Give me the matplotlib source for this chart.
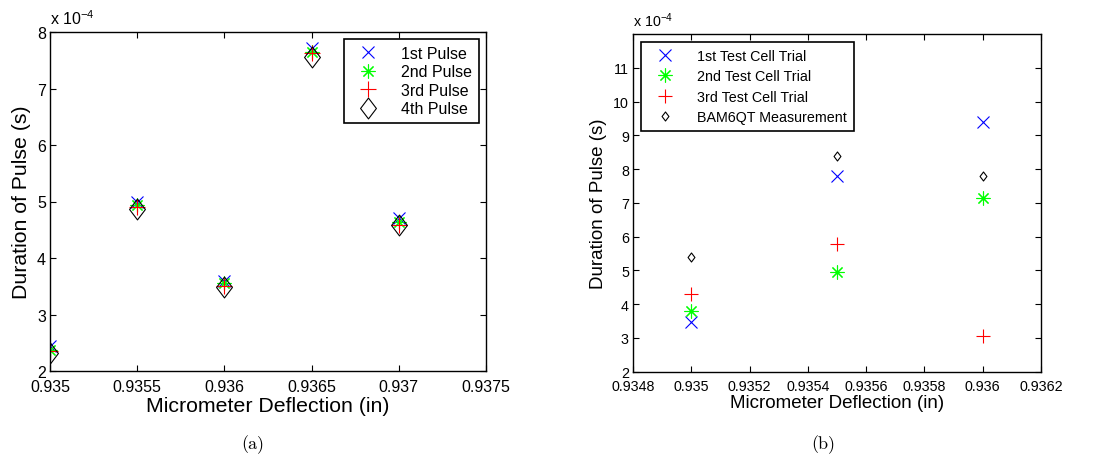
import numpy as np
import matplotlib
matplotlib.use('Agg')
from matplotlib import pyplot as plt
from matplotlib.path import Path

plt.rcParams['font.family'] = ['Liberation Sans', 'DejaVu Sans']
plt.rcParams['mathtext.default'] = 'regular'

# panel (a): pulses
x_a = [0.935, 0.9355, 0.936, 0.9365, 0.937]
pulse1 = [2.45, 5.00, 3.60, 7.72, 4.70]
pulse2 = [2.37, 4.93, 3.55, 7.65, 4.63]
pulse3 = [2.35, 4.90, 3.50, 7.63, 4.59]
pulse4 = [2.31, 4.86, 3.49, 7.56, 4.58]
labels_a = ['1st Pulse', '2nd Pulse', '3rd Pulse', '4th Pulse']
xticks_a = [0.935, 0.9355, 0.936, 0.9365, 0.937, 0.9375]
xticklabels_a = ['0.935', '0.9355', '0.936', '0.9365', '0.937', '0.9375']
yticks_a = [2, 3, 4, 5, 6, 7, 8]

# panel (b): test cell trials
x_b = [0.935, 0.9355, 0.936]
trial1 = [3.47, 7.80, 9.40]
trial2 = [3.79, 4.96, 7.13]
trial3 = [4.30, 5.79, 3.05]
bam6qt = [5.40, 8.40, 7.80]
labels_b = ['1st Test Cell Trial', '2nd Test Cell Trial', '3rd Test Cell Trial', 'BAM6QT Measurement']
xticks_b = [0.9348, 0.935, 0.9352, 0.9354, 0.9356, 0.9358, 0.936, 0.9362]
xticklabels_b = ['0.9348', '0.935', '0.9352', '0.9354', '0.9356', '0.9358', '0.936', '0.9362']
yticks_b = [2, 3, 4, 5, 6, 7, 8, 9, 10, 11]

diamond = Path([(-0.38, 0), (0, 0.5), (0.38, 0), (0, -0.5), (-0.38, 0)],
               [Path.MOVETO, Path.LINETO, Path.LINETO, Path.LINETO, Path.CLOSEPOLY])
star = (8, 2, 0)

fig = plt.figure(figsize=(10.97, 4.56), dpi=100)
ax1 = fig.add_axes([50 / 1097, 84 / 456, 436 / 1097, 339 / 456])
ax2 = fig.add_axes([633 / 1097, 83.3 / 456, 408 / 1097, 337.7 / 456])


def style(ax, xt, xtl, yt, xl, yl, fs_tick, fs_lab, xpad):
    ax.set_xlim(*xl)
    ax.set_ylim(*yl)
    ax.set_xticks(xt)
    ax.set_xticklabels(xtl)
    ax.set_yticks(yt)
    ax.set_yticklabels([str(v) for v in yt])
    ax.tick_params(direction='in', top=True, right=True, labelsize=fs_tick,
                   length=4, width=0.8, pad=3)
    ax.tick_params(axis='x', pad=xpad)
    for s in ax.spines.values():
        s.set_linewidth(1.0)
    ax.set_xlabel('Micrometer Deflection (in)', fontsize=fs_lab, labelpad=1)
    ax.set_ylabel('Duration of Pulse (s)', fontsize=fs_lab, labelpad=4)
    ax.text(0.0, 1.015, r'x 10$^{-4}$', transform=ax.transAxes, fontsize=fs_tick,
            ha='left', va='bottom')


# panel (a)
ax1.plot(x_a, pulse1, ls='none', marker='x', ms=8.5, mew=0.8, color='b', label=labels_a[0])
ax1.plot(x_a, pulse2, ls='none', marker=star, ms=10, mew=0.8, color=(0, 1, 0), label=labels_a[1])
ax1.plot(x_a, pulse3, ls='none', marker='+', ms=11, mew=0.8, color='r', label=labels_a[2])
ax1.plot(x_a, pulse4, ls='none', marker=diamond, ms=15, mew=0.8, mfc='none', color='k', label=labels_a[3])
style(ax1, xticks_a, xticklabels_a, yticks_a, (0.935, 0.9375), (2, 8), 11.5, 15.3, 6)
leg1 = ax1.legend(loc='upper right', fontsize=11.5, fancybox=False, edgecolor='k',
                  borderaxespad=0.45, handletextpad=1.0, labelspacing=0.22,
                  handlelength=2.2, borderpad=0.4, framealpha=1)
leg1.get_frame().set_linewidth(1.2)

# panel (b)
ax2.plot(x_b, trial1, ls='none', marker='x', ms=8, mew=0.8, color='b', label=labels_b[0])
ax2.plot(x_b, trial2, ls='none', marker=star, ms=10, mew=0.8, color=(0, 1, 0), label=labels_b[1])
ax2.plot(x_b, trial3, ls='none', marker='+', ms=10.5, mew=0.8, color='r', label=labels_b[2])
ax2.plot(x_b, bam6qt, ls='none', marker=diamond, ms=6.5, mew=0.8, mfc='none', color='k', label=labels_b[3])
style(ax2, xticks_b, xticklabels_b, yticks_b, (0.9348, 0.9362), (2, 12), 10.3, 13.5, 5)
leg2 = ax2.legend(loc='upper left', fontsize=10.3, fancybox=False, edgecolor='k',
                  borderaxespad=0.55, handletextpad=1.0, labelspacing=0.45,
                  handlelength=2.4, borderpad=0.5, framealpha=1)
leg2.get_frame().set_linewidth(1.2)

fig.text(253 / 1097, 1 - 445 / 456, '(a)', family='cmr10', fontsize=13, ha='center', va='center')
fig.text(823 / 1097, 1 - 445 / 456, '(b)', family='cmr10', fontsize=13, ha='center', va='center')

fig.savefig('out.png', dpi=100)
